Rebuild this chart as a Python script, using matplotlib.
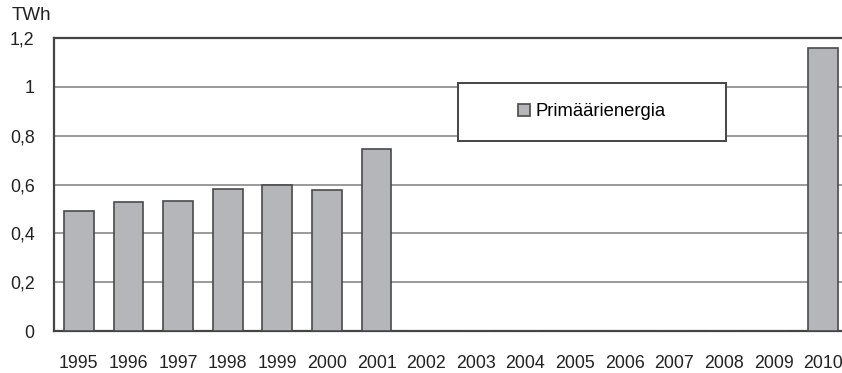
#!/usr/bin/env python3

""" Primary energy (TWh) by year, 1995-2010 """

import matplotlib
matplotlib.use('Agg')
import matplotlib.pyplot as plt
from matplotlib.patches import Rectangle

# data.
years = ['1995', '1996', '1997', '1998', '1999', '2000', '2001', '2002',
         '2003', '2004', '2005', '2006', '2007', '2008', '2009', '2010']
values = [0.49, 0.53, 0.534, 0.58, 0.597, 0.576, 0.745, 0, 0,
          0, 0, 0, 0, 0, 0, 1.16]
yticks = [0, 0.2, 0.4, 0.6, 0.8, 1.0, 1.2]
ytick_labels = ['0', '0,2', '0,4', '0,6', '0,8', '1', '1,2']
series_name = 'Primäärienergia'

plt.rcParams['font.family'] = ['Liberation Sans', 'DejaVu Sans']

W, H = 842, 373
fig = plt.figure(figsize=(W / 100, H / 100), dpi=100)
# axes reach past the right edge, as in the original (cropped) chart
ax = fig.add_axes([54 / W, 1 - 331 / H, (848 - 54) / W, (331 - 38) / H])

x = range(len(years))
bars = ax.bar(x, values, width=0.6, color='#b5b6ba', edgecolor='#4a4a4a',
              linewidth=1.2, label=series_name, zorder=3)

ax.set_xlim(-0.5, len(years) - 0.5)
ax.set_ylim(0, 1.2)
ax.set_yticks(yticks)
ax.set_yticklabels(ytick_labels)
ax.set_xticks(list(x))
ax.set_xticklabels(years)
ax.tick_params(axis='both', length=0, labelsize=12.8, colors='#222222')
ax.tick_params(axis='x', pad=17)
ax.tick_params(axis='y', pad=14)
ax.yaxis.grid(True, color='#9a9a9a', linewidth=1.4, zorder=0)
ax.set_axisbelow(True)
for side in ['left', 'top', 'bottom', 'right']:
    ax.spines[side].set_color('#444444')
    ax.spines[side].set_linewidth(1.6)

fig.text(12 / W, 1 - 15 / H, 'TWh', fontsize=13.5, color='#222222',
         va='center', ha='left')

# legend box
bx0, by0, bx1, by1 = 458, 83, 726, 141
fig.patches.append(Rectangle((bx0 / W, 1 - by1 / H), (bx1 - bx0) / W,
                             (by1 - by0) / H, transform=fig.transFigure,
                             facecolor='white', edgecolor='#444444',
                             linewidth=1.4, zorder=5))
leg = fig.legend(handles=[bars], labels=[series_name], loc='center',
                 bbox_to_anchor=((bx0 + bx1) / 2 / W, 1 - (by0 + by1) / 2 / H),
                 frameon=False, fontsize=13.3, handlelength=0.65,
                 handleheight=0.65, handletextpad=0.3)
leg.set_zorder(6)

fig.savefig('out.png', dpi=100)
